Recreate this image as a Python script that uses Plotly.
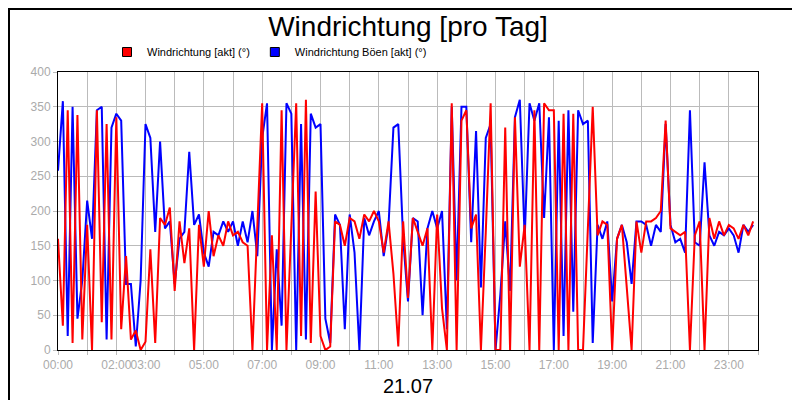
import plotly.graph_objects as go

# 10-minute samples, 6 per hour
red_by_hour = [
    [160, 35, 345, 10, 338, 15],
    [180, 0, 345, 40, 325, 15],
    [335, 30, 135, 15, 28, 0],
    [12, 145, 10, 190, 180, 205],
    [85, 185, 125, 175, 0, 180],
    [120, 200, 135, 165, 150, 185],
    [165, 170, 155, 150, 0, 165],
    [355, 0, 165, 0, 345, 0],
    [180, 355, 20, 360, 10, 228],
    [20, 0, 5, 185, 180, 150],
    [190, 185, 160, 195, 185, 200],
    [185, 140, 185, 110, 5, 185],
    [75, 190, 170, 150, 175, 0],
    [195, 60, 0, 355, 0, 330],
    [345, 175, 195, 0, 170, 355],
    [0, 0, 320, 0, 335, 120],
    [180, 0, 345, 0, 355, 345],
    [345, 0, 340, 0, 340, 0],
    [0, 175, 350, 165, 185, 180],
    [0, 160, 180, 90, 0, 185],
    [140, 185, 185, 190, 200, 330],
    [175, 170, 165, 170, 0, 165],
    [185, 0, 190, 160, 185, 165],
    [180, 175, 160, 180, 165, 185],
]
blue_by_hour = [
    [258, 358, 20, 350, 45, 100],
    [215, 160, 345, 350, 15, 320],
    [340, 330, 95, 95, 5, 100],
    [325, 305, 170, 300, 175, 185],
    [95, 160, 170, 285, 180, 195],
    [140, 120, 170, 165, 185, 170],
    [185, 150, 185, 155, 200, 135],
    [305, 355, 0, 145, 35, 355],
    [340, 0, 325, 15, 340, 320],
    [325, 45, 10, 195, 180, 30],
    [195, 140, 0, 190, 165, 185],
    [200, 135, 180, 320, 325, 160],
    [70, 190, 185, 50, 175, 200],
    [175, 200, 30, 350, 100, 350],
    [350, 155, 315, 90, 305, 325],
    [0, 80, 185, 85, 335, 360],
    [160, 355, 330, 355, 190, 335],
    [0, 330, 20, 345, 55, 345],
    [325, 330, 10, 180, 160, 185],
    [70, 160, 180, 155, 95, 185],
    [185, 180, 150, 180, 170, 325],
    [180, 155, 160, 140, 345, 155],
    [150, 270, 165, 150, 170, 165],
    [175, 165, 140, 180, 170, 180],
]
red = [v for h in red_by_hour for v in h]
blue = [v for h in blue_by_hour for v in h]
hours = [i / 6 for i in range(len(red))]

tick_hours = [0, 2, 3, 5, 7, 9, 11, 13, 15, 17, 19, 21, 23]

fig = go.Figure()
fig.add_trace(go.Scatter(x=hours, y=blue, mode="lines", line=dict(color="#0000ff", width=2), showlegend=False))
fig.add_trace(go.Scatter(x=hours, y=red, mode="lines", line=dict(color="#ff0000", width=2), showlegend=False))
# legend entries with square swatches
fig.add_trace(go.Scatter(x=[None], y=[None], mode="markers", name="Windrichtung [akt] (°)",
                         marker=dict(symbol="square", size=9, color="#ff0000", line=dict(color="black", width=1))))
fig.add_trace(go.Scatter(x=[None], y=[None], mode="markers", name="Windrichtung Böen [akt] (°)",
                         marker=dict(symbol="square", size=9, color="#0000ff", line=dict(color="black", width=1))))

fig.update_layout(
    width=800, height=400,
    margin=dict(l=50, r=50, t=64, b=58, autoexpand=False),
    paper_bgcolor="white", plot_bgcolor="white",
    font=dict(family="Liberation Sans, Arial", size=11, color="black"),
    title=dict(text="Windrichtung [pro Tag]", x=0.5, xanchor="center", y=0.955, yanchor="middle",
               font=dict(size=28, color="black")),
    legend=dict(orientation="h", x=0.07, xanchor="left", y=1 - 44 / 400, yref="container",
                yanchor="middle", font=dict(size=11), bgcolor="rgba(0,0,0,0)"),
    xaxis=dict(range=[0, 24], showgrid=True, automargin=False, tickangle=0,
               gridcolor="#bbbbbb", gridwidth=1, showline=True, linecolor="black", mirror=True,
               ticks="outside", tickcolor="#bbbbbb", ticklen=4, zeroline=False,
               tickfont=dict(color="#aaaaaa", size=12),
               tickvals=list(range(25)),
               ticktext=[f"{h:02d}:00" if h in tick_hours else "" for h in range(25)]),
    yaxis=dict(range=[0, 400], dtick=50, showgrid=True, gridcolor="#bbbbbb", gridwidth=1,
               automargin=False, showline=True, linecolor="black", mirror=True, zeroline=False,
               ticks="outside", tickcolor="#bbbbbb", ticklen=4,
               tickfont=dict(color="#aaaaaa", size=12)),
    annotations=[dict(text="21.07", xref="paper", yref="paper", x=0.5, y=-36 / 278,
                      xanchor="center", yanchor="middle", showarrow=False,
                      font=dict(size=20, color="black"))],
    shapes=[dict(type="rect", xref="paper", yref="paper",
                 x0=-49 / 700, x1=1 + 49 / 700, y0=-57 / 278, y1=1 + 63 / 278,
                 line=dict(color="black", width=2))],
)

fig.write_html("out.html")
